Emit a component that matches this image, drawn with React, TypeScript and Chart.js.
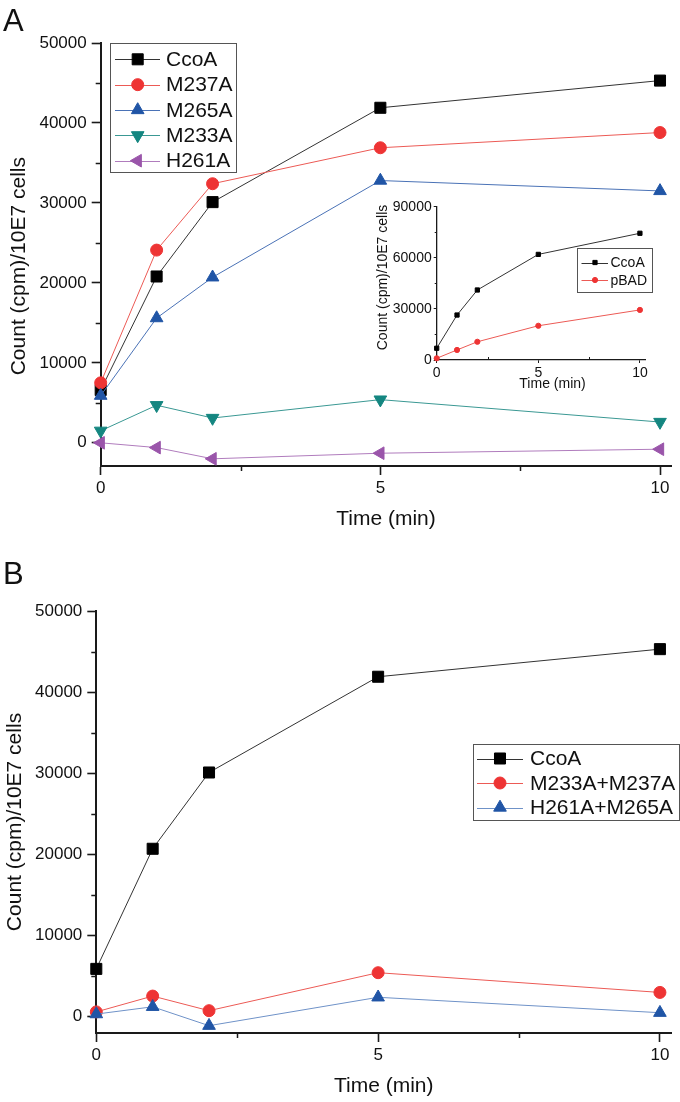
import React, { useEffect, useRef } from 'react';
import { Chart, registerables } from 'chart.js';
import { drawPoint } from 'chart.js/helpers';

Chart.register(...registerables);

const FONT = '"Liberation Sans", Arial, Helvetica, sans-serif';
Chart.defaults.font.family = FONT;

// ---------- data ----------
const times = [0, 1, 2, 5, 10];

// Panel A
const ccoaA = [6600, 20800, 30100, 41900, 45300];
const m237a = [7500, 24100, 32400, 36900, 38800];
const m265a = [5900, 15600, 20700, 32800, 31500];
const m233a = [1500, 4700, 3100, 5400, 2600];
const h261a = [0, -600, -2000, -1300, -800];

// Panel A inset
const insetCcoA = [6900, 26400, 41100, 62000, 74400];
const insetPBAD = [1000, 5900, 10700, 20100, 29400];

// Panel B
const ccoaB = [5900, 20700, 30100, 41900, 45300];
const m233m237 = [600, 2550, 750, 5430, 3000];
const h261m265 = [330, 1230, -1100, 2400, 500];

// ticks
const xTicks = [0, 5, 10];
const xMinor = [2.5, 7.5];
const yTicksMain = [0, 10000, 20000, 30000, 40000, 50000];
const yMinorMain = [5000, 15000, 25000, 35000, 45000];
const yTicksInset = [0, 30000, 60000, 90000];
const yMinorInset = [15000, 45000, 75000];

const AXIS = '#1a1a1a';
const TEXT = '#111111';

function series(label: string, values: number[], color: string, lineColor: string, style: string, radius: number, rotation: number, order: number) {
  return {
    label,
    data: times.map((t, i) => ({ x: t, y: values[i] })),
    borderColor: lineColor,
    backgroundColor: color,
    borderWidth: 1,
    pointStyle: style,
    pointRadius: radius,
    pointHoverRadius: radius,
    pointRotation: rotation,
    pointBackgroundColor: color,
    pointBorderColor: color,
    pointBorderWidth: 1,
    tension: 0,
    fill: false,
    clip: false,
    order,
  };
}

function minorTicks(o: { x: number[]; y: number[]; xLen: number; yLen: number; width: number }) {
  return {
    id: 'minorTicks',
    afterDraw(chart: any) {
      const { ctx, chartArea } = chart;
      const xs = chart.scales.x;
      const ys = chart.scales.y;
      ctx.save();
      ctx.strokeStyle = AXIS;
      ctx.lineWidth = o.width;
      ctx.beginPath();
      for (const v of o.x) {
        const px = Math.round(xs.getPixelForValue(v)) + 0.5;
        ctx.moveTo(px, chartArea.bottom);
        ctx.lineTo(px, chartArea.bottom + o.xLen);
      }
      for (const v of o.y) {
        const py = Math.round(ys.getPixelForValue(v)) + 0.5;
        ctx.moveTo(chartArea.left, py);
        ctx.lineTo(chartArea.left - o.yLen, py);
      }
      ctx.stroke();
      ctx.restore();
    },
  };
}

function boxLegend(o: {
  left: number; top: number; width: number; height: number;
  firstRow: number; rowGap: number; lineStart: number; lineEnd: number;
  marker: number; textStart: number; fontSize: number;
}) {
  return {
    id: 'boxLegend',
    afterDraw(chart: any) {
      const ctx = chart.ctx;
      ctx.save();
      ctx.fillStyle = '#ffffff';
      ctx.fillRect(o.left, o.top, o.width, o.height);
      ctx.strokeStyle = '#555555';
      ctx.lineWidth = 1;
      ctx.strokeRect(Math.round(o.left) + 0.5, Math.round(o.top) + 0.5, Math.round(o.width), Math.round(o.height));
      ctx.font = `${o.fontSize}px ${FONT}`;
      ctx.textBaseline = 'middle';
      ctx.textAlign = 'left';
      chart.data.datasets.forEach((ds: any, i: number) => {
        const y = o.firstRow + i * o.rowGap;
        ctx.strokeStyle = ds.borderColor;
        ctx.lineWidth = ds.borderWidth;
        ctx.beginPath();
        ctx.moveTo(o.lineStart, Math.round(y) + 0.5);
        ctx.lineTo(o.lineEnd, Math.round(y) + 0.5);
        ctx.stroke();
        ctx.fillStyle = ds.pointBackgroundColor;
        ctx.strokeStyle = ds.pointBorderColor;
        ctx.lineWidth = ds.pointBorderWidth;
        drawPoint(ctx, { pointStyle: ds.pointStyle, rotation: ds.pointRotation || 0, radius: ds.pointRadius, borderWidth: ds.pointBorderWidth }, o.marker, y);
        ctx.fillStyle = TEXT;
        ctx.fillText(ds.label, o.textStart, y + 1);
      });
      ctx.restore();
    },
  };
}

function scales(p: {
  xMax: number; yMin: number; yMax: number; yTicks: number[];
  xTitle: string; yTitle: string; tickSize: number; titleSize: number;
  yWidth: number; xHeight: number; tickLen: number; axisWidth: number;
  xLabelPad: number; yLabelPad: number; xTitlePad: number; yTitlePad: number;
}) {
  const tickFont = { size: p.tickSize, family: FONT };
  const titleFont = { size: p.titleSize, family: FONT };
  return {
    x: {
      type: 'linear',
      min: 0,
      max: p.xMax,
      afterBuildTicks: (s: any) => { s.ticks = xTicks.map((v) => ({ value: v })); },
      afterFit: (s: any) => { s.height = p.xHeight; },
      grid: { display: true, drawOnChartArea: false, drawTicks: true, tickLength: p.tickLen, tickWidth: p.axisWidth * 0.8, tickColor: AXIS },
      border: { display: true, color: AXIS, width: p.axisWidth },
      ticks: { font: tickFont, color: TEXT, padding: p.xLabelPad, maxRotation: 0, autoSkip: false, callback: (v: any) => String(v) },
      title: { display: true, text: p.xTitle, font: titleFont, color: TEXT, padding: { top: 0, bottom: p.xTitlePad } },
    },
    y: {
      type: 'linear',
      min: p.yMin,
      max: p.yMax,
      afterBuildTicks: (s: any) => { s.ticks = p.yTicks.map((v) => ({ value: v })); },
      afterFit: (s: any) => { s.width = p.yWidth; },
      grid: { display: true, drawOnChartArea: false, drawTicks: true, tickLength: p.tickLen, tickWidth: p.axisWidth * 0.8, tickColor: AXIS },
      border: { display: true, color: AXIS, width: p.axisWidth },
      ticks: { font: tickFont, color: TEXT, padding: p.yLabelPad, autoSkip: false, callback: (v: any) => String(v) },
      title: { display: true, text: p.yTitle, font: titleFont, color: TEXT, padding: { top: p.yTitlePad, bottom: 0 } },
    },
  };
}

const BLACK = '#000000';
const RED = '#ee3434';
const BLUE = '#2055a6';
const TEAL = '#148680';
const PURPLE = '#9a55aa';

function configA(): any {
  return {
    type: 'line',
    data: {
      datasets: [
        series('CcoA', ccoaA, BLACK, '#333333', 'rect', 7.8, 0, 5),
        series('M237A', m237a, RED, '#ec5a55', 'circle', 6, 0, 4),
        series('M265A', m265a, BLUE, '#4a72b6', 'triangle', 7.3, 0, 3),
        series('M233A', m233a, TEAL, '#3a9893', 'triangle', 7.3, 180, 2),
        series('H261A', h261a, PURPLE, '#b07cbd', 'triangle', 7.3, 270, 1),
      ],
    },
    options: {
      responsive: false,
      animation: false,
      events: [],
      layout: { padding: { left: 0, top: 43, right: 3, bottom: 0 } },
      plugins: { legend: { display: false }, tooltip: { enabled: false } },
      scales: scales({
        xMax: 10.2, yMin: -2900, yMax: 50000, yTicks: yTicksMain,
        xTitle: 'Time (min)', yTitle: 'Count (cpm)/10E7 cells    ',
        tickSize: 17, titleSize: 21, yWidth: 100.7, xHeight: 79, tickLen: 9, axisWidth: 2,
        xLabelPad: 3, yLabelPad: 5, xTitlePad: 13, yTitlePad: 7,
      }),
    },
    plugins: [
      minorTicks({ x: xMinor, y: yMinorMain, xLen: 5, yLen: 5, width: 1.5 }),
      boxLegend({ left: 110, top: 43, width: 126, height: 129, firstRow: 59.3, rowGap: 25.35, lineStart: 115, lineEnd: 160, marker: 137.7, textStart: 166, fontSize: 21 }),
    ],
  };
}

function configInset(): any {
  return {
    type: 'line',
    data: {
      datasets: [
        series('CcoA', insetCcoA, BLACK, '#333333', 'rect', 3, 0, 2),
        series('pBAD', insetPBAD, RED, '#ec5a55', 'circle', 2.6, 0, 1),
      ],
    },
    options: {
      responsive: false,
      animation: false,
      events: [],
      layout: { padding: { left: 0, top: 11.7, right: 15, bottom: 0 } },
      plugins: { legend: { display: false }, tooltip: { enabled: false } },
      scales: scales({
        xMax: 10.25, yMin: 0, yMax: 90000, yTicks: yTicksInset,
        xTitle: '      Time (min)', yTitle: '   Count (cpm)/10E7 cells',
        tickSize: 14, titleSize: 14, yWidth: 66.7, xHeight: 35, tickLen: 3, axisWidth: 1.3,
        xLabelPad: 1.5, yLabelPad: 2, xTitlePad: 2.6, yTitlePad: 4.3,
      }),
    },
    plugins: [
      minorTicks({ x: xMinor, y: yMinorInset, xLen: -3, yLen: 2, width: 1 }),
      boxLegend({ left: 207, top: 53.3, width: 75, height: 44.4, firstRow: 67.5, rowGap: 17.5, lineStart: 211.5, lineEnd: 238, marker: 225, textStart: 240.5, fontSize: 14 }),
    ],
  };
}

function configB(): any {
  return {
    type: 'line',
    data: {
      datasets: [
        series('CcoA', ccoaB, BLACK, '#333333', 'rect', 7.8, 0, 3),
        series('M233A+M237A', m233m237, RED, '#ec5a55', 'circle', 6, 0, 2),
        series('H261A+M265A', h261m265, BLUE, '#6f92c8', 'triangle', 7.3, 0, 1),
      ],
    },
    options: {
      responsive: false,
      animation: false,
      events: [],
      layout: { padding: { left: 0, top: 61, right: 7, bottom: 0 } },
      plugins: { legend: { display: false }, tooltip: { enabled: false } },
      scales: scales({
        xMax: 10.2, yMin: -2000, yMax: 50000, yTicks: yTicksMain,
        xTitle: 'Time (min)', yTitle: 'Count (cpm)/10E7 cells',
        tickSize: 17, titleSize: 21, yWidth: 96.3, xHeight: 69, tickLen: 9, axisWidth: 2,
        xLabelPad: 3, yLabelPad: 5, xTitlePad: 3.4, yTitlePad: 3,
      }),
    },
    plugins: [
      minorTicks({ x: xMinor, y: yMinorMain, xLen: 5, yLen: 5, width: 1.5 }),
      boxLegend({ left: 473, top: 194, width: 206, height: 76, firstRow: 208.5, rowGap: 24.5, lineStart: 477, lineEnd: 523, marker: 500, textStart: 530, fontSize: 21 }),
    ],
  };
}

export default function App() {
  const aRef = useRef<HTMLCanvasElement>(null);
  const iRef = useRef<HTMLCanvasElement>(null);
  const bRef = useRef<HTMLCanvasElement>(null);

  useEffect(() => {
    const charts = [
      new Chart(aRef.current as HTMLCanvasElement, configA()),
      new Chart(iRef.current as HTMLCanvasElement, configInset()),
      new Chart(bRef.current as HTMLCanvasElement, configB()),
    ];
    return () => charts.forEach((c) => c.destroy());
  }, []);

  const abs = (l: number, t: number, w: number, h: number): React.CSSProperties => ({ position: 'absolute', left: l, top: t, width: w, height: h });

  return (
    <div style={{ position: 'absolute', left: 0, top: 0, width: 680, height: 1102, background: '#ffffff', fontFamily: FONT, overflow: 'hidden' }}>
      <canvas ref={aRef} width={680} height={545} style={abs(0, 0, 680, 545)} />
      <canvas ref={iRef} width={290} height={200} style={abs(370, 195, 290, 200)} />
      <canvas ref={bRef} width={680} height={552} style={abs(0, 550, 680, 552)} />
      <div style={{ position: 'absolute', left: 3, top: 5, fontSize: 31, lineHeight: '31px', color: TEXT }}>A</div>
      <div style={{ position: 'absolute', left: 3, top: 558, fontSize: 31, lineHeight: '31px', color: TEXT }}>B</div>
    </div>
  );
}
